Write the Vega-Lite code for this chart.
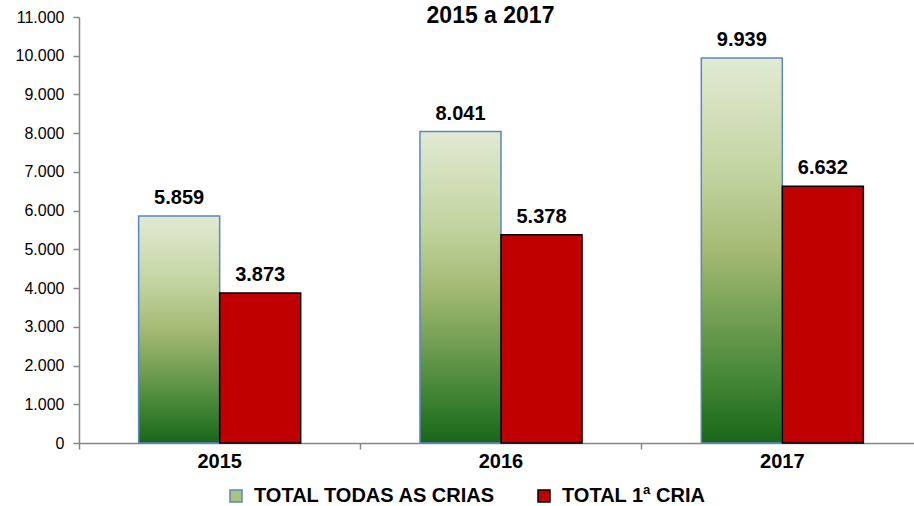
{
  "$schema": "https://vega.github.io/schema/vega-lite/v6.json",
  "autosize": "none",
  "width": 835,
  "height": 426,
  "padding": {"top": 17, "left": 79, "right": 0, "bottom": 63},
  "background": "#ffffff",
  "title": {
    "text": "2015 a 2017",
    "font": "Liberation Sans",
    "fontSize": 23,
    "fontWeight": "bold",
    "color": "#000000",
    "anchor": "middle",
    "frame": "group",
    "baseline": "alphabetic",
    "offset": -37,
    "dx": -6
  },
  "data": {
    "values": [
      {"ano": "2015", "serie": "TOTAL TODAS AS CRIAS", "valor": 5859},
      {"ano": "2015", "serie": "TOTAL 1ª CRIA", "valor": 3873},
      {"ano": "2016", "serie": "TOTAL TODAS AS CRIAS", "valor": 8041},
      {"ano": "2016", "serie": "TOTAL 1ª CRIA", "valor": 5378},
      {"ano": "2017", "serie": "TOTAL TODAS AS CRIAS", "valor": 9939},
      {"ano": "2017", "serie": "TOTAL 1ª CRIA", "valor": 6632}
    ]
  },
  "encoding": {
    "x": {
      "field": "ano",
      "type": "nominal",
      "scale": {"range": [0, 844], "paddingInner": 0, "paddingOuter": 0},
      "axis": {
        "title": null,
        "labelAngle": 0,
        "bandPosition": 0,
        "ticks": true,
        "tickSize": 6,
        "tickColor": "#868686",
        "tickWidth": 1.5,
        "domainColor": "#868686",
        "domainWidth": 1.5,
        "labelFont": "Liberation Sans",
        "labelFontSize": 20,
        "labelFontWeight": "bold",
        "labelColor": "#000000",
        "labelPadding": 2
      }
    },
    "xOffset": {
      "field": "serie",
      "type": "nominal",
      "scale": {"domain": ["TOTAL TODAS AS CRIAS", "TOTAL 1ª CRIA"], "paddingInner": 0, "paddingOuter": 0.736}
    },
    "y": {
      "field": "valor",
      "type": "quantitative",
      "scale": {"domain": [0, 11000], "nice": false},
      "axis": {
        "title": null,
        "values": [0, 1000, 2000, 3000, 4000, 5000, 6000, 7000, 8000, 9000, 10000, 11000],
        "format": ",.0f",
        "grid": false,
        "tickSize": 6,
        "tickColor": "#868686",
        "tickWidth": 1.5,
        "domainColor": "#868686",
        "domainWidth": 1.5,
        "labelFont": "Liberation Sans",
        "labelFontSize": 16,
        "labelColor": "#000000",
        "labelPadding": 9
      }
    }
  },
  "layer": [
    {
      "transform": [{"filter": "datum.serie === 'TOTAL TODAS AS CRIAS'"}],
      "mark": {
        "type": "bar",
        "strokeWidth": 1.5,
        "stroke": "#5b87c2",
        "color": {
          "gradient": "linear",
          "x1": 0, "y1": 0, "x2": 0, "y2": 1,
          "stops": [
            {"offset": 0, "color": "#e1ead3"},
            {"offset": 0.3, "color": "#c2d4a0"},
            {"offset": 0.5, "color": "#a4ba74"},
            {"offset": 0.7, "color": "#6c9b4f"},
            {"offset": 0.85, "color": "#3f8433"},
            {"offset": 1, "color": "#196619"}
          ]
        }
      }
    },
    {
      "transform": [{"filter": "datum.serie === 'TOTAL 1ª CRIA'"}],
      "mark": {"type": "bar", "strokeWidth": 1.5, "stroke": "#000000", "color": "#c00000"}
    },
    {
      "mark": {"type": "bar", "opacity": 0},
      "encoding": {
        "color": {
          "field": "serie",
          "type": "nominal",
          "scale": {
            "domain": ["TOTAL TODAS AS CRIAS", "TOTAL 1ª CRIA"],
            "range": ["#a9c47f", "#c00000"]
          },
          "legend": {
            "title": null,
            "orient": "none",
            "legendX": 147,
            "legendY": 469,
            "direction": "horizontal",
            "symbolType": "square",
            "symbolSize": 144,
            "symbolStrokeWidth": 1.5,
            "symbolOpacity": 1,
            "labelFont": "Liberation Sans",
            "labelFontSize": 20,
            "labelFontWeight": "bold",
            "labelColor": "#000000",
            "labelOffset": 8,
            "labelLimit": 400,
            "columnPadding": 38,
            "encode": {
              "symbols": {
                "update": {
                  "opacity": {"value": 1},
                  "fillOpacity": {"value": 1},
                  "strokeOpacity": {"value": 1},
                  "strokeWidth": {"value": 1.5},
                  "stroke": {"signal": "datum.value === 'TOTAL 1ª CRIA' ? '#000000' : '#5b87c2'"}
                }
              }
            }
          }
        }
      }
    },
    {
      "mark": {
        "type": "text",
        "baseline": "alphabetic",
        "dy": -12,
        "font": "Liberation Sans",
        "fontSize": 20,
        "fontWeight": "bold",
        "color": "#000000"
      },
      "encoding": {
        "text": {"field": "valor", "type": "quantitative", "format": ",.0f"}
      }
    }
  ],
  "config": {
    "locale": {
      "number": {"decimal": ",", "thousands": ".", "grouping": [3], "currency": ["R$", ""]}
    },
    "view": {"stroke": null}
  }
}
